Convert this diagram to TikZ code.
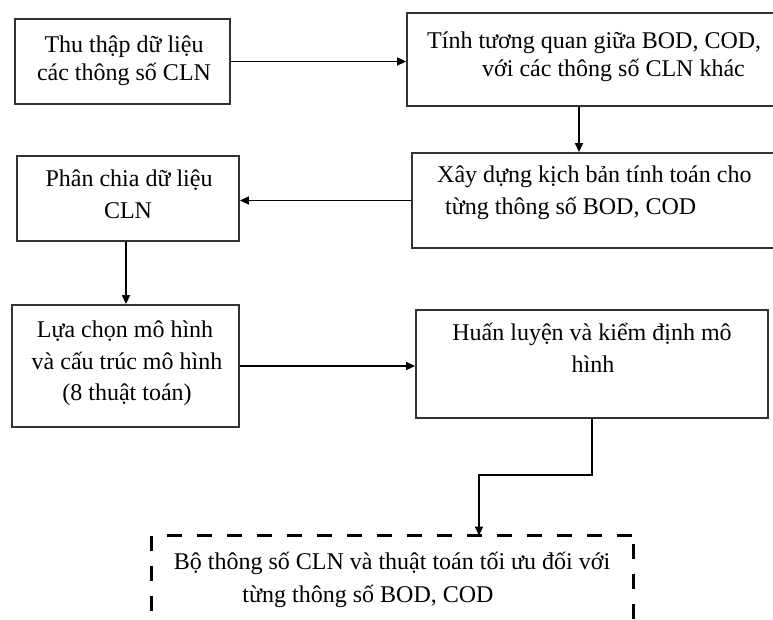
\documentclass[tikz,border=0pt]{standalone}
\usepackage{fontspec}
\setmainfont{Liberation Serif}
\usetikzlibrary{arrows.meta,fit}
\begin{document}
\begin{tikzpicture}[x=1pt,y=-1pt,
  box/.style={draw=black!80, line width=1.8pt, inner sep=0pt},
  lbl/.style={anchor=base, inner sep=0pt, font=\fontsize{24}{29}\selectfont},
  lblw/.style={lbl, anchor=base west},
  arr/.style={line width=1.6pt, -{Triangle[length=9pt,width=8pt]}},
  dashedge/.style={line width=3pt, dash pattern=on 15pt off 15pt}]
\useasboundingbox (0,0) rectangle (773,620);
\fill[white] (0,0) rectangle (773,620);
\clip (0,0) rectangle (773,620);

% process boxes
\node[box, fit={(15,19) (230,104)}] (b1) {};
\node[box, fit={(407,13) (790,106)}] (b2) {};
\node[box, fit={(412,153) (790,248)}] (b3) {};
\node[box, fit={(17,156) (239,241)}] (b4) {};
\node[box, fit={(12,305) (239,427)}] (b5) {};
\node[box, fit={(416,310) (768,418)}] (b6) {};
% result box, outlined with dashes
\node[inner sep=0pt, outer sep=1.5pt, fit={(153,537) (632,650)}] (b7) {};
\draw[dashedge] (b7.north west) -- (b7.south west);
\draw[dashedge, dash phase=15pt] (b7.north west) -- (b7.north east);
\draw[dashedge, dash phase=22pt] (b7.north east) -- (b7.south east);

% box texts
\node[lbl] (t1a) at (124,53) {Thu thập dữ liệu};
\node[lbl] (t1b) at (124,81) {các thông số CLN};
\node[lblw] (t2a) at (427,49) {Tính tương quan giữa BOD, COD,};
\node[lblw] (t2b) at (482,77) {với các thông số CLN khác};
\node[lblw] (t3a) at (437,183) {Xây dựng kịch bản tính toán cho};
\node[lblw] (t3b) at (445,215) {từng thông số BOD, COD};
\node[lbl] (t4a) at (129,187) {Phân chia dữ liệu};
\node[lbl] (t4b) at (128,219) {CLN};
\node[lbl] (t5a) at (125,337) {Lựa chọn mô hình};
\node[lbl] (t5b) at (127,369) {và cấu trúc mô hình};
\node[lbl] (t5c) at (127,400) {(8 thuật toán)};
\node[lbl] (t6a) at (592,340) {Huấn luyện và kiểm định mô};
\node[lbl] (t6b) at (593,372) {hình};
\node[lbl] (t7a) at (392,569) {Bộ thông số CLN và thuật toán tối ưu đối với};
\node[lbl] (t7b) at (368,602) {từng thông số BOD, COD};

% connectors
\coordinate (x2) at (579,0);
\coordinate (x4) at (126,0);
\coordinate (k) at (479,475);
\draw[arr] (b1.east) -- (b1.east -| b2.west);
\draw[arr] (x2 |- b2.south) -- (x2 |- b3.north);
\draw[arr] (b3.west) -- (b3.west -| b4.east);
\draw[arr] (x4 |- b4.south) -- (x4 |- b5.north);
\draw[arr] (b5.east) -- (b5.east -| b6.west);
\draw[arr] (b6.south) |- (k) -- (k |- b7.north);
\end{tikzpicture}
\end{document}
